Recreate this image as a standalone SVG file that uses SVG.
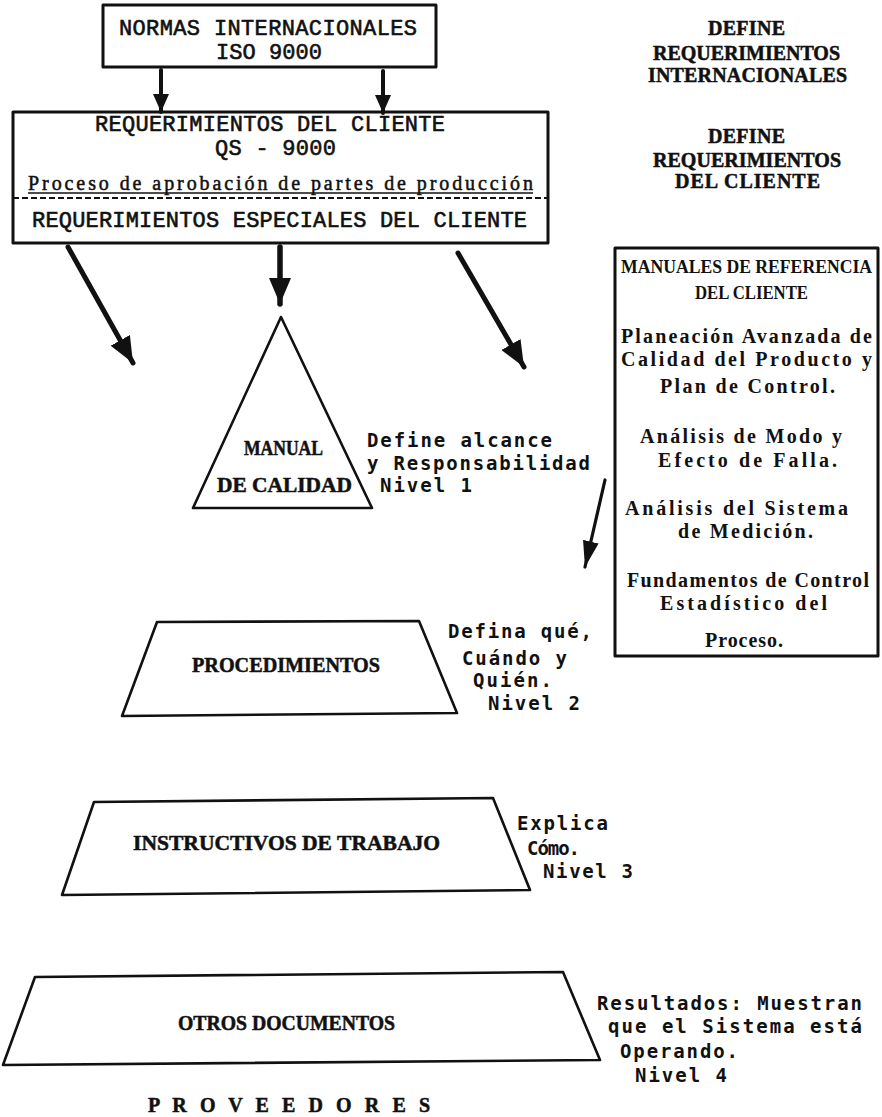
<svg xmlns="http://www.w3.org/2000/svg" width="882" height="1117" viewBox="0 0 882 1117">
  <defs>
    <style>
      .box { fill: none; stroke: #111; stroke-width: 3; stroke-linejoin: round; }
      .shape { fill: none; stroke: #111; stroke-width: 2.6; stroke-linejoin: round; }
      .mono { font-family: "Liberation Mono", "Courier New", monospace; font-size: 22px; fill: #111; stroke: #111; stroke-width: 0.6; }
      .note { font-family: "DejaVu Sans Mono", "Liberation Mono", monospace; font-size: 19px; font-weight: bold; fill: #111; }
      .slab { font-family: "Liberation Serif", "Times New Roman", serif; font-size: 20px; font-weight: bold; fill: #111; }
      .head { font-family: "Liberation Serif", "Times New Roman", serif; font-size: 20px; font-weight: bold; fill: #111; stroke: #111; stroke-width: 0.5; }
      .arrow { stroke: #111; fill: none; stroke-linecap: round; }
    </style>
    <marker id="ahSmall" markerUnits="userSpaceOnUse" markerWidth="18" markerHeight="16" refX="18" refY="8" orient="auto">
      <path d="M0,0 L18,8 L0,16 z" fill="#111"/>
    </marker>
    <marker id="ahBig" markerUnits="userSpaceOnUse" markerWidth="26" markerHeight="22" refX="26" refY="11" orient="auto">
      <path d="M0,0 L26,11 L0,22 z" fill="#111"/>
    </marker>
    <marker id="ahThin" markerUnits="userSpaceOnUse" markerWidth="26" markerHeight="16" refX="26" refY="8" orient="auto">
      <path d="M0,0 L26,8 L0,16 z" fill="#111"/>
    </marker>
  </defs>
  <rect width="882" height="1117" fill="#ffffff"/>

  <g id="connectors">
    <line class="arrow" x1="161" y1="70" x2="161" y2="112" stroke-width="4" marker-end="url(#ahSmall)"/>
    <line class="arrow" x1="383" y1="71" x2="383" y2="113" stroke-width="4" marker-end="url(#ahSmall)"/>
    <line class="arrow" x1="68" y1="247" x2="133" y2="363" stroke-width="5" marker-end="url(#ahBig)"/>
    <line class="arrow" x1="280" y1="247" x2="280" y2="304" stroke-width="5.5" marker-end="url(#ahBig)"/>
    <line class="arrow" x1="458" y1="253" x2="524" y2="367" stroke-width="5" marker-end="url(#ahBig)"/>
    <line class="arrow" x1="605" y1="480" x2="585" y2="567" stroke-width="3.2" marker-end="url(#ahThin)"/>
  </g>

  <g id="normas">
    <rect class="box" x="103" y="5" width="333" height="62"/>
    <text class="mono" x="119" y="35" textLength="298">NORMAS INTERNACIONALES</text>
    <text class="mono" x="216" y="59" textLength="106">ISO 9000</text>
  </g>

  <g id="requerimientos">
    <rect class="box" x="13" y="112" width="535" height="131"/>
    <text class="mono" x="95" y="131" textLength="350">REQUERIMIENTOS DEL CLIENTE</text>
    <text class="mono" x="215" y="155" textLength="121">QS - 9000</text>
    <text class="slab" x="28" y="190" textLength="505" style="font-weight:normal;stroke:#111;stroke-width:0.5">Proceso de aprobación de partes de producción</text>
    <line x1="28" y1="193" x2="533" y2="193" stroke="#111" stroke-width="1.6"/>
    <line x1="13" y1="198" x2="548" y2="198" stroke="#111" stroke-width="1.8" stroke-dasharray="6,3"/>
    <text class="mono" x="32" y="227" textLength="495">REQUERIMIENTOS ESPECIALES DEL CLIENTE</text>
  </g>

  <g id="define-internacionales">
    <text class="head" x="708" y="35" textLength="77">DEFINE</text>
    <text class="head" x="653" y="60" textLength="187">REQUERIMIENTOS</text>
    <text class="head" x="648" y="82" textLength="199">INTERNACIONALES</text>
  </g>

  <g id="define-cliente">
    <text class="head" x="708" y="143" textLength="77">DEFINE</text>
    <text class="head" x="653" y="167" textLength="188">REQUERIMIENTOS</text>
    <text class="head" x="675" y="188" textLength="145">DEL CLIENTE</text>
  </g>

  <g id="manuales-referencia">
    <rect class="box" x="615" y="248" width="263" height="408"/>
    <text class="slab" x="621" y="273" textLength="251" lengthAdjust="spacingAndGlyphs" style="font-size:18px">MANUALES DE REFERENCIA</text>
    <text class="slab" x="695" y="299" textLength="113" lengthAdjust="spacingAndGlyphs" style="font-size:18px">DEL CLIENTE</text>
    <text class="slab" x="621" y="343" textLength="251">Planeación Avanzada de</text>
    <text class="slab" x="621" y="366" textLength="251">Calidad del Producto y</text>
    <text class="slab" x="660" y="393" textLength="175">Plan de Control.</text>
    <text class="slab" x="640" y="443" textLength="202">Análisis de Modo y</text>
    <text class="slab" x="658" y="467" textLength="179">Efecto de Falla.</text>
    <text class="slab" x="625" y="515" textLength="223">Análisis del Sistema</text>
    <text class="slab" x="678" y="538" textLength="135">de Medición.</text>
    <text class="slab" x="627" y="587" textLength="242">Fundamentos de Control</text>
    <text class="slab" x="660" y="610" textLength="167">Estadístico del</text>
    <text class="slab" x="705" y="647" textLength="78">Proceso.</text>
  </g>

  <g id="manual-calidad">
    <polygon class="shape" points="281,317 193,508 372,508"/>
    <text class="head" x="244" y="455" textLength="79" lengthAdjust="spacingAndGlyphs">MANUAL</text>
    <text class="head" x="217" y="492" textLength="135" lengthAdjust="spacingAndGlyphs">DE CALIDAD</text>
    <text class="note" x="367" y="447" textLength="185">Define alcance</text>
    <text class="note" x="367" y="470" textLength="223">y Responsabilidad</text>
    <text class="note" x="380" y="492" textLength="92">Nivel 1</text>
  </g>

  <g id="procedimientos">
    <polygon class="shape" points="157,622 419,621 457,713 122,716"/>
    <text class="head" x="192" y="672" textLength="188" lengthAdjust="spacingAndGlyphs">PROCEDIMIENTOS</text>
    <text class="note" x="448" y="638" textLength="144">Defina qué,</text>
    <text class="note" x="462" y="665" textLength="105">Cuándo y</text>
    <text class="note" x="473" y="687" textLength="79">Quién.</text>
    <text class="note" x="488" y="710" textLength="92">Nivel 2</text>
  </g>

  <g id="instructivos">
    <polygon class="shape" points="94,802 493,798 530,890 62,895"/>
    <text class="head" x="133" y="850" textLength="307" lengthAdjust="spacingAndGlyphs">INSTRUCTIVOS DE TRABAJO</text>
    <text class="note" x="517" y="830" textLength="91">Explica</text>
    <text class="note" x="527" y="855" textLength="53">Cómo.</text>
    <text class="note" x="543" y="878" textLength="90">Nivel 3</text>
  </g>

  <g id="otros-documentos">
    <polygon class="shape" points="35,977 563,972 600,1060 3,1065"/>
    <text class="head" x="178" y="1030" textLength="217" lengthAdjust="spacingAndGlyphs">OTROS DOCUMENTOS</text>
    <text class="note" x="597" y="1010" textLength="265">Resultados: Muestran</text>
    <text class="note" x="608" y="1033" textLength="254">que el Sistema está</text>
    <text class="note" x="620" y="1058" textLength="118">Operando.</text>
    <text class="note" x="635" y="1082" textLength="92">Nivel 4</text>
  </g>

  <g id="proveedores">
    <text class="head" x="148" y="1112" textLength="282">P R O V E E D O R E S</text>
  </g>
</svg>
